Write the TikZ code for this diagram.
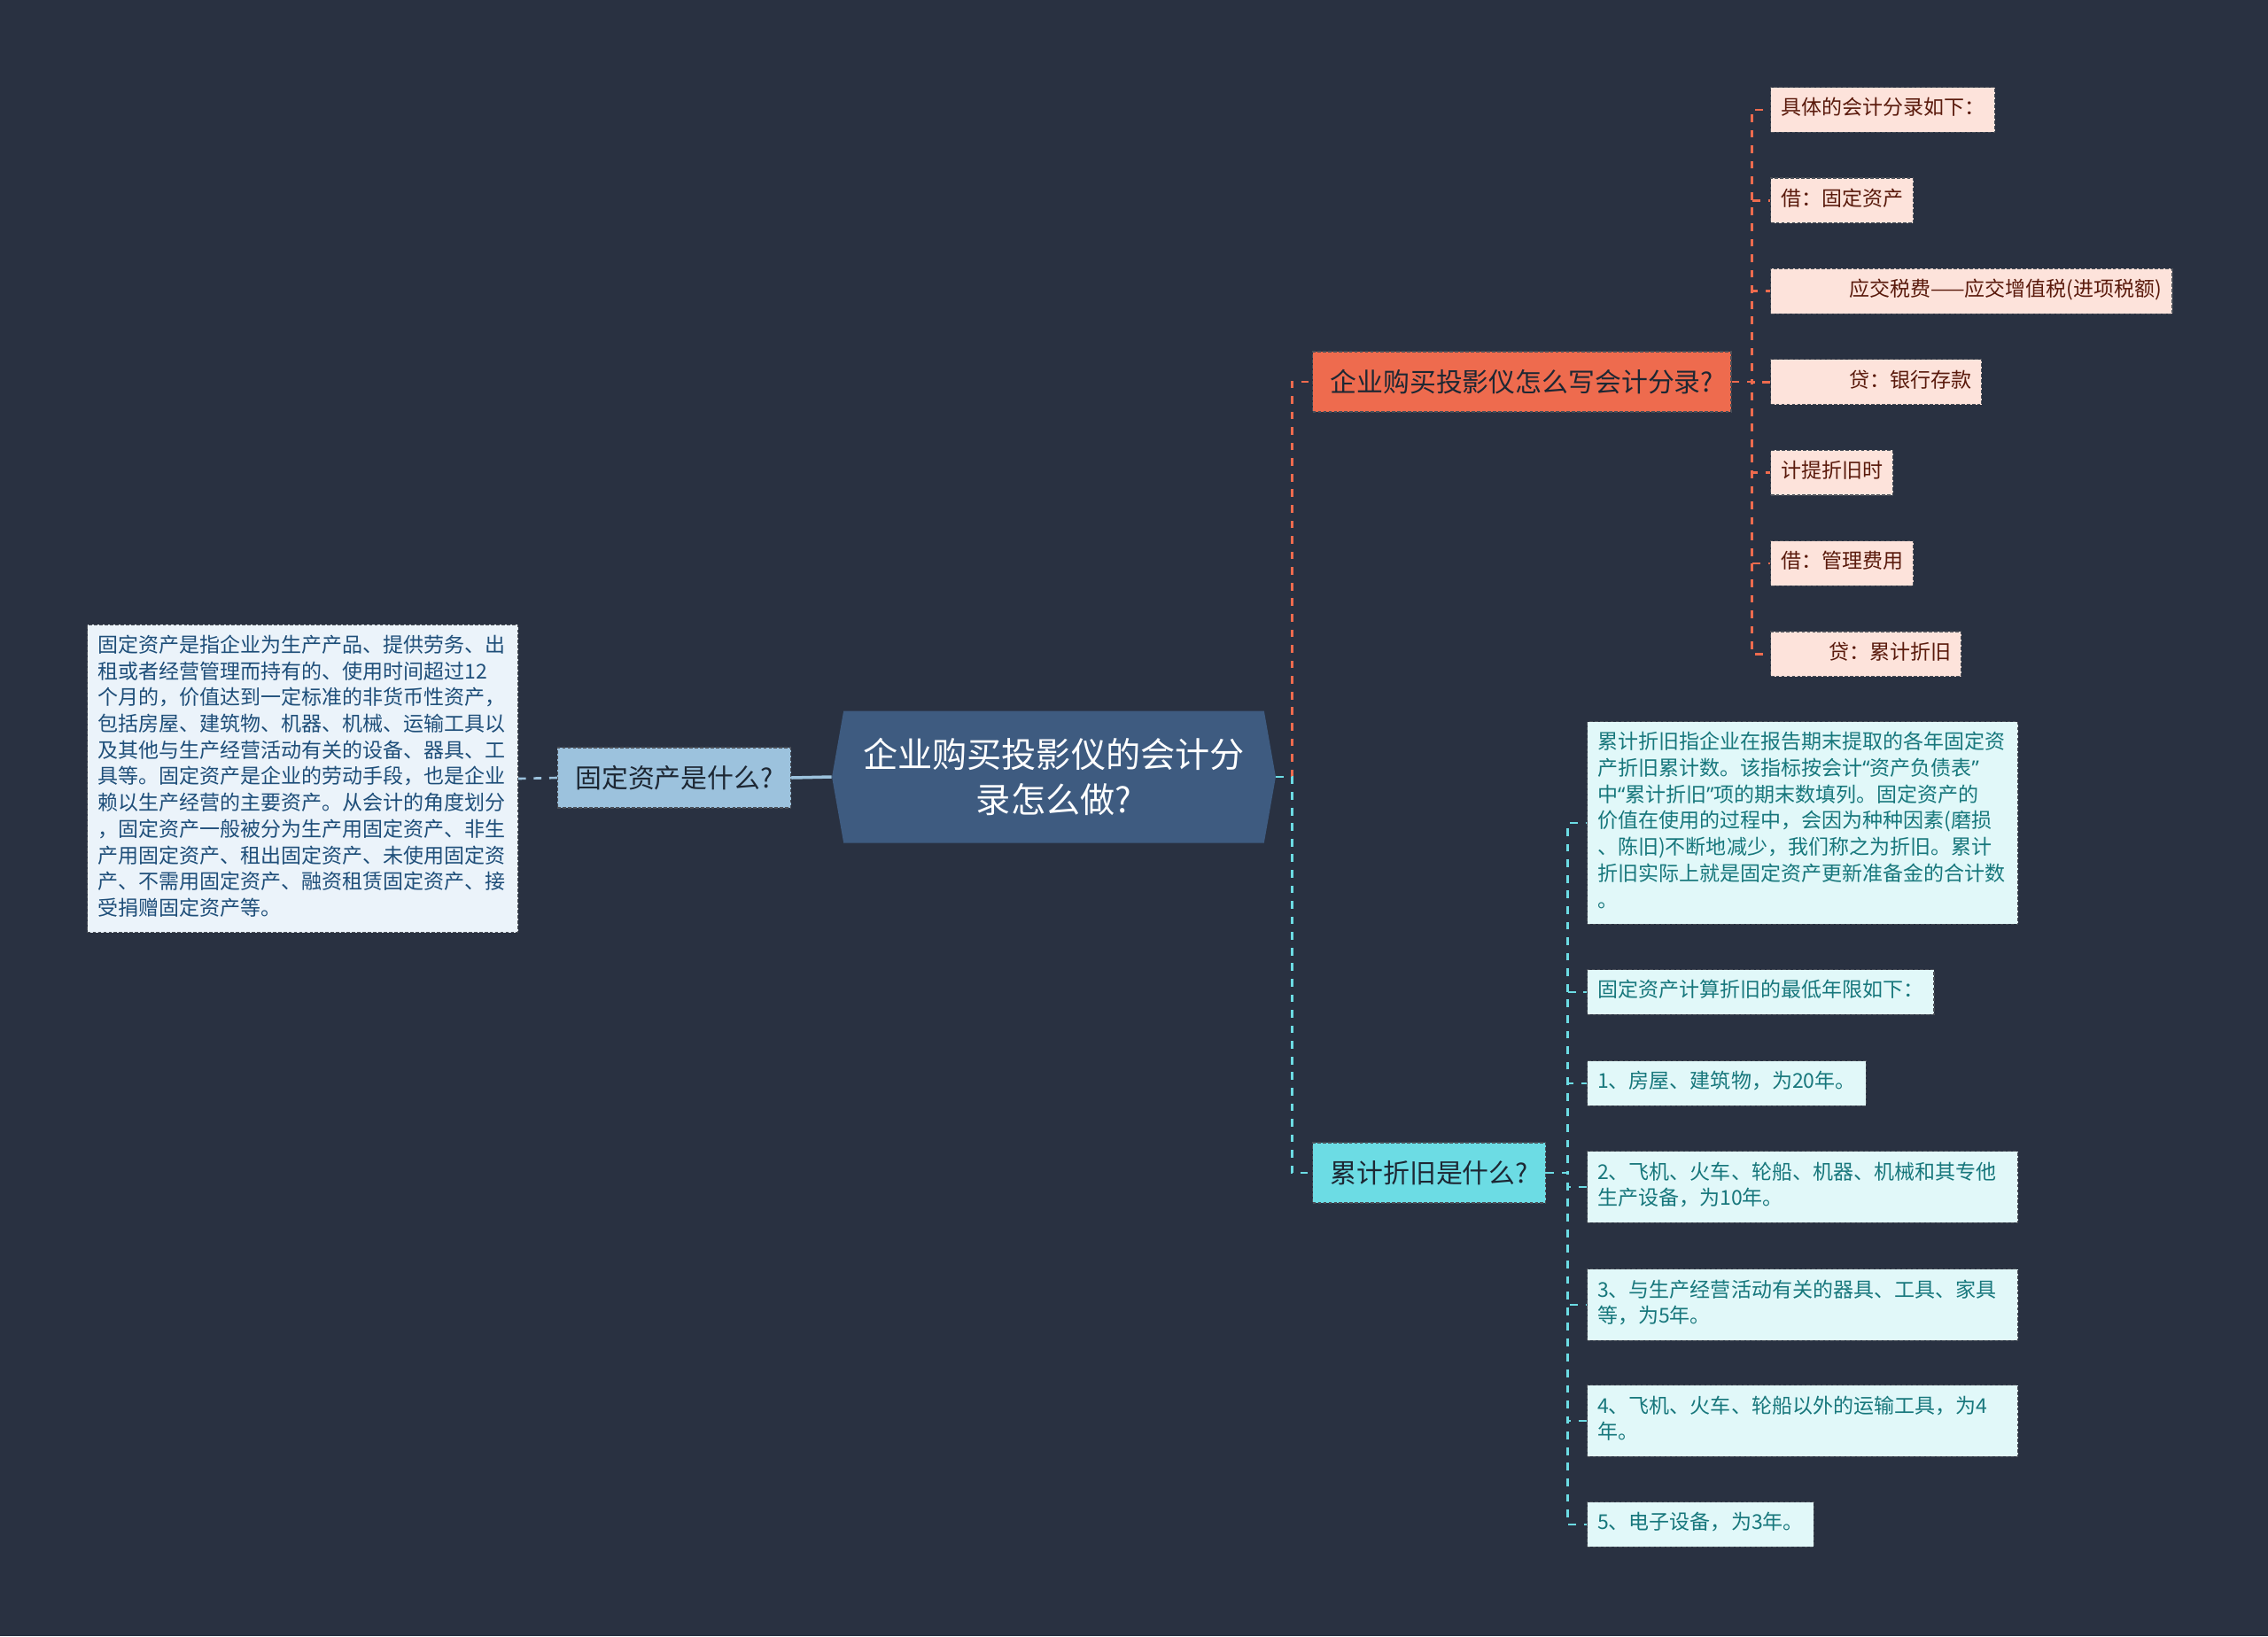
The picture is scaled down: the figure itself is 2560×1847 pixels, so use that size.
\documentclass[tikz,border=0pt]{standalone}
\usepackage{fontspec}
\setmainfont{Noto Sans CJK SC}
\newfontfamily\quotefont{Noto Sans}
\newcommand{\openq}{{\quotefont “}}
\newcommand{\closeq}{{\quotefont ”}}
\newcommand{\zc}{\symbol{"FF0C}}
\newcommand{\zm}{\symbol{"FF1A}}
\usetikzlibrary{positioning,shapes.symbols}
\definecolor{bgcol}{HTML}{293141}
\definecolor{rootfill}{HTML}{3E5B80}
\definecolor{fixfill}{HTML}{9CC2DD}
\definecolor{fixpale}{HTML}{EBF3FA}
\definecolor{fixink}{HTML}{1E4E79}
\definecolor{entfill}{HTML}{EE6B4E}
\definecolor{entpale}{HTML}{FDE3DB}
\definecolor{entink}{HTML}{5A1A0C}
\definecolor{depfill}{HTML}{6CDCE4}
\definecolor{deppale}{HTML}{E1F8F9}
\definecolor{depink}{HTML}{17777C}
\definecolor{nodeink}{HTML}{1D2733}
\definecolor{edgegray}{HTML}{4A4F58}

\begin{document}
\begin{tikzpicture}[x=0.02cm,y=-0.02cm,
  box/.style={draw=edgegray, dash pattern=on 2.2pt off 1.2pt, line width=0.7pt},
  topic/.style={box, minimum height=1.36cm, inner xsep=0.4cm, text=nodeink, font=\fontsize{17}{21}\selectfont},
  leaf/.style={box, anchor=west, align=left, inner xsep=0.23cm, inner ysep=0.21cm, font=\fontsize{13.1}{16.9}\selectfont, execute at begin node=\strut, execute at end node=\strut},
  oleaf/.style={leaf, fill=entpale, text=entink},
  cleaf/.style={leaf, fill=deppale, text=depink},
  obranch/.style={draw=entfill, line width=1.5pt, dash pattern=on 5pt off 5pt},
  cbranch/.style={draw=depfill, line width=1.5pt, dash pattern=on 5pt off 5pt}]
\useasboundingbox (0,0) rectangle (2560,1847);
\fill[bgcol] (0,0) rectangle (2560,1847);

% centre
\node[signal, signal to=west and east, signal pointer angle=160, fill=rootfill, minimum width=10.02cm, minimum height=2.98cm, inner sep=0pt, align=center, text=white, font=\fontsize{22.3}{28.7}\selectfont] (root) at (1189.5,877) {企业购买投影仪的会计分\\录怎么做?};

% left
\node[topic, fill=fixfill] (fixq) at (761,878) {固定资产是什么?};
\node[leaf, fill=fixpale, text=fixink, text width=9.26cm] (fixtext) at (98,879) {固定资产是指企业为生产产品、提供劳务、出\\租或者经营管理而持有的、使用时间超过12\\个月的\zc 价值达到一定标准的非货币性资产\zc\\包括房屋、建筑物、机器、机械、运输工具以\\及其他与生产经营活动有关的设备、器具、工\\具等。固定资产是企业的劳动手段\zc 也是企业\\赖以生产经营的主要资产。从会计的角度划分\\\zc 固定资产一般被分为生产用固定资产、非生\\产用固定资产、租出固定资产、未使用固定资\\产、不需用固定资产、融资租赁固定资产、接\\受捐赠固定资产等。};
\draw[fixfill, line width=2pt] (root.west) -- (fixq.east);
\draw[fixfill, line width=1.5pt, dash pattern=on 5pt off 5pt] (fixq.west) -- (fixtext.east);

% journal entries
\node[topic, fill=entfill, anchor=west] (entq) at (1481,431) {企业购买投影仪怎么写会计分录?};
\foreach \i/\txt in {1/{具体的会计分录如下\zm}, 2/{借\zm 固定资产}, 3/{\hspace*{1.54cm}应交税费——应交增值税(进项税额)}, 4/{\hspace*{1.54cm}贷\zm 银行存款}, 5/{计提折旧时}, 6/{借\zm 管理费用}, 7/{\hspace*{1.08cm}贷\zm 累计折旧}} {
  \node[oleaf] (e\i) at (1998,{124+102.4*(\i-1)}) {\txt};
  \draw[obranch] (entq.east) -- ++(23,0) |- (e\i.west);
}

% depreciation
\node[topic, fill=depfill, anchor=west] (depq) at (1481,1324) {累计折旧是什么?};
\node[cleaf, text width=9.26cm] (d1) at (1791,929) {累计折旧指企业在报告期末提取的各年固定资\\产折旧累计数。该指标按会计\openq 资产负债表\closeq\\中\openq 累计折旧\closeq 项的期末数填列。固定资产的\\价值在使用的过程中\zc 会因为种种因素(磨损\\、陈旧)不断地减少\zc 我们称之为折旧。累计\\折旧实际上就是固定资产更新准备金的合计数\\。};
\node[cleaf] (d2) at (1791,1120) {固定资产计算折旧的最低年限如下\zm};
\node[cleaf] (d3) at (1791,1223) {1、房屋、建筑物\zc 为20年。};
\node[cleaf, text width=9.26cm] (d4) at (1791,1340) {2、飞机、火车、轮船、机器、机械和其专他\\生产设备\zc 为10年。};
\node[cleaf, text width=9.26cm] (d5) at (1791,1473) {3、与生产经营活动有关的器具、工具、家具\\等\zc 为5年。};
\node[cleaf, text width=9.26cm] (d6) at (1791,1604) {4、飞机、火车、轮船以外的运输工具\zc 为4\\年。};
\node[cleaf] (d7) at (1791,1721) {5、电子设备\zc 为3年。};
\foreach \i in {1,...,7} { \draw[cbranch] (depq.east) -- ++(24,0) |- (d\i.west); }

% branches from centre
\draw[obranch] (root.east) -- ++(18,0) |- (entq.west);
\draw[cbranch] (root.east) -- ++(18,0) |- (depq.west);
\end{tikzpicture}
\end{document}
